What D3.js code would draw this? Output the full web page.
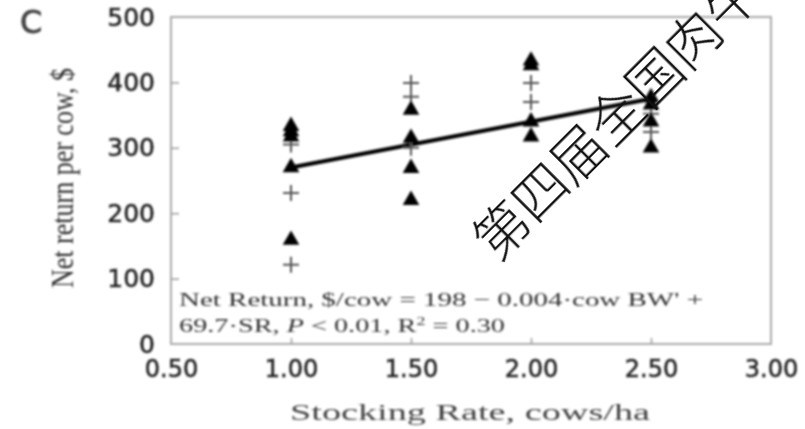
<!DOCTYPE html>
<html>
<head>
<meta charset="utf-8">
<script src="https://cdn.jsdelivr.net/npm/d3@7"></script>
<style>
  html, body { margin: 0; padding: 0; background: #fff; }
  svg { display: block; }
</style>
</head>
<body>
<svg id="chart" width="805" height="429"></svg>
<script>
// Stocking rate (cows/ha) vs net return per cow ($)
const xTickValues = [0.5, 1.0, 1.5, 2.0, 2.5, 3.0];
const yTickValues = [0, 100, 200, 300, 400, 500];

// Filled triangles
const triangleSR     = [1.0, 1.0, 1.0, 1.0, 1.0, 1.5, 1.5, 1.5, 1.5, 2.0, 2.0, 2.0, 2.0, 2.5, 2.5, 2.5, 2.5];
const triangleReturn = [333, 325, 317, 270, 159, 358, 315, 269, 220, 433, 426, 340, 317, 377, 366, 340, 300];

// Plus markers
const plusSR     = [1.0, 1.0, 1.0, 1.5, 1.5, 1.5, 2.0, 2.0, 2.5, 2.5];
const plusReturn = [305, 231, 121, 399, 378, 300, 399, 370, 352, 324];

// Fitted line end points
const fitSR     = [1.0, 2.5];
const fitReturn = [270, 375];

const svg = d3.select("#chart");

const defs = svg.append("defs");
defs.append("filter").attr("id", "soft")
  .attr("x", "-5%").attr("y", "-5%").attr("width", "110%").attr("height", "110%")
  .append("feGaussianBlur").attr("stdDeviation", 1.0);

const x = d3.scaleLinear().domain([0.5, 3.0]).range([171, 771]);
const y = d3.scaleLinear().domain([0, 500]).range([344, 17]);

const g = svg.append("g").attr("filter", "url(#soft)");

// panel letter
g.append("text")
  .attr("x", 20).attr("y", 33)
  .attr("font-family", "DejaVu Sans").attr("font-size", 32)
  .attr("stroke", "#444").attr("stroke-width", 0.8)
  .attr("fill", "#444")
  .text("C");

// frame
g.append("rect")
  .attr("x", x(0.5)).attr("y", y(500))
  .attr("width", x(3.0) - x(0.5)).attr("height", y(0) - y(500))
  .attr("fill", "none").attr("stroke", "#aaa").attr("stroke-width", 2);

// inward tick marks
g.append("g")
  .attr("transform", `translate(0,${y(0)})`)
  .call(d3.axisBottom(x).tickValues([1.0, 1.5, 2.0, 2.5]).tickSize(-6).tickFormat(""))
  .call(a => a.select(".domain").remove())
  .call(a => a.selectAll("line").attr("stroke", "#999").attr("stroke-width", 1.5));

g.append("g")
  .attr("transform", `translate(${x(0.5)},0)`)
  .call(d3.axisLeft(y).tickValues([100, 200, 300, 400]).tickSize(-8).tickFormat(""))
  .call(a => a.select(".domain").remove())
  .call(a => a.selectAll("line").attr("stroke", "#999").attr("stroke-width", 1.5));

// tick labels
g.append("g")
  .attr("transform", `translate(0,${y(0)})`)
  .call(d3.axisBottom(x).tickValues(xTickValues).tickSize(0).tickPadding(16).tickFormat(d3.format(".2f")))
  .call(a => a.select(".domain").remove())
  .call(a => a.selectAll("text")
    .attr("font-family", "DejaVu Sans").attr("font-size", 24)
    .attr("fill", "#222").attr("stroke", "#222").attr("stroke-width", 0.5));

g.append("g")
  .attr("transform", `translate(${x(0.5)},0)`)
  .call(d3.axisLeft(y).tickValues(yTickValues).tickSize(0).tickPadding(16).tickFormat(d3.format("d")))
  .call(a => a.select(".domain").remove())
  .call(a => a.selectAll("text")
    .attr("font-family", "DejaVu Sans").attr("font-size", 25)
    .attr("fill", "#222").attr("stroke", "#222").attr("stroke-width", 0.5));

// axis titles
g.append("text")
  .attr("transform", "translate(62,178) rotate(-90)")
  .attr("text-anchor", "middle").attr("dominant-baseline", "central")
  .attr("font-family", "Liberation Serif").attr("font-size", 31)
  .attr("textLength", 220).attr("lengthAdjust", "spacingAndGlyphs")
  .attr("fill", "#333")
  .text("Net return per cow, $");

g.append("text")
  .attr("x", 470).attr("y", 412)
  .attr("text-anchor", "middle").attr("dominant-baseline", "central")
  .attr("font-family", "Liberation Serif").attr("font-size", 24)
  .attr("textLength", 360).attr("lengthAdjust", "spacingAndGlyphs")
  .attr("fill", "#444")
  .text("Stocking Rate, cows/ha");

// fitted line
g.append("path")
  .datum(fitSR.map((s, i) => [s, fitReturn[i]]))
  .attr("d", d3.line().x(d => x(d[0])).y(d => y(d[1])))
  .attr("fill", "none").attr("stroke", "#000").attr("stroke-width", 4);

// plus markers
const plusHalf = 8;
g.append("g").selectAll("path")
  .data(plusSR.map((s, i) => [s, plusReturn[i]]))
  .join("path")
  .attr("d", d => {
    const cx = x(d[0]), cy = y(d[1]);
    return `M${cx - plusHalf},${cy}H${cx + plusHalf}M${cx},${cy - plusHalf}V${cy + plusHalf}`;
  })
  .attr("stroke", "#555").attr("stroke-width", 2).attr("fill", "none");

// triangle markers
g.append("g").selectAll("path")
  .data(triangleSR.map((s, i) => [s, triangleReturn[i]]))
  .join("path")
  .attr("transform", d => `translate(${x(d[0])},${y(d[1])})`)
  .attr("d", d3.symbol().type(d3.symbolTriangle).size(120))
  .attr("fill", "#000");

// regression note
const note = g.append("g")
  .attr("font-family", "Liberation Serif").attr("font-size", 19).attr("fill", "#333");
note.append("text")
  .attr("x", 179).attr("y", 306)
  .attr("textLength", 524).attr("lengthAdjust", "spacingAndGlyphs")
  .text("Net Return, $/cow = 198 \u2212 0.004\u00b7cow BW' +");
const line2 = note.append("text")
  .attr("x", 179).attr("y", 332)
  .attr("textLength", 326).attr("lengthAdjust", "spacingAndGlyphs");
line2.append("tspan").text("69.7\u00b7SR, ");
line2.append("tspan").attr("font-style", "italic").text("P");
line2.append("tspan").text(" < 0.01, R");
line2.append("tspan").attr("font-size", 12).attr("dy", -7).text("2");
line2.append("tspan").attr("dy", 7).text(" = 0.30");

// diagonal caption
svg.append("text")
  .attr("transform", "translate(614,113) rotate(-45)")
  .attr("text-anchor", "middle").attr("dominant-baseline", "central")
  .attr("font-family", "Noto Sans CJK SC").attr("font-weight", 300)
  .attr("font-size", 54).attr("fill", "#111")
  .text("第四届全国肉牛");
</script>
</body>
</html>
